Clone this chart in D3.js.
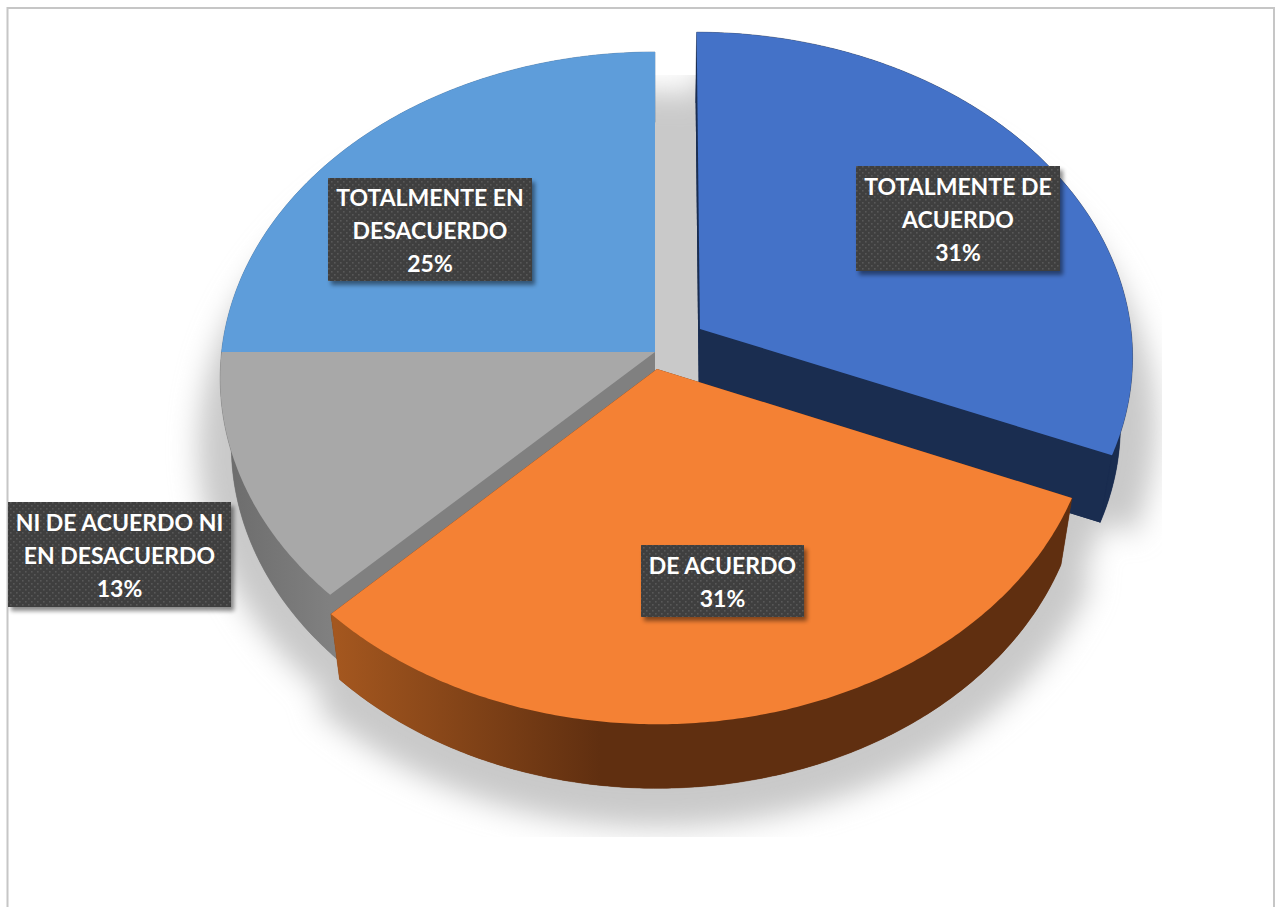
<!DOCTYPE html>
<html><head><meta charset="utf-8">
<style>html,body{margin:0;padding:0;background:#fff;overflow:hidden}svg{display:block}</style>
<script src="https://cdn.jsdelivr.net/npm/d3@7/dist/d3.min.js"></script>
</head><body><svg id="c" width="1278" height="907"></svg>
<script>
// --- data, clockwise from 12 o'clock
const categories = ["TOTALMENTE DE ACUERDO","DE ACUERDO","NI DE ACUERDO NI EN DESACUERDO","TOTALMENTE EN DESACUERDO"];
const values = [31.25,31.25,12.5,25];
const percentLabels = ["31%","31%","13%","25%"];
const labelLines = [["TOTALMENTE DE","ACUERDO"],["DE ACUERDO"],["NI DE ACUERDO NI","EN DESACUERDO"],["TOTALMENTE EN","DESACUERDO"]];

// --- styling and layout
const topColors = ["#4472C8","#F48134","#A8A8A8","#5E9DDA"];
const wallColors = ["#1A2D50","url(#orangeWall)","url(#grayWall)","#3A6A9A"];
const cutColors = ["#1A2D50","#602F10","#808080","#3A6A9A"];
const explodeX = [45.2,2,0,0], explodeY = [-23.2,16.9,0,0];
const labelBoxes = [[856,166,204,105],[641,545,163,72],[8,502,223,105],[328,178,204,103]];
const cx=655, cy=352, R=433.4, Ry=324, persp=0.08, depth=70, sink=0.026;

const svg=d3.select("#c");
const defs=svg.append("defs");
const grad=(id,x1,x2,stops)=>{const g=defs.append("linearGradient").attr("id",id).attr("gradientUnits","userSpaceOnUse")
  .attr("x1",x1).attr("x2",x2).attr("y1",0).attr("y2",0);
  stops.forEach(s=>g.append("stop").attr("offset",s[0]).attr("stop-color",s[1]));};
grad("orangeWall",335,600,[[0,"#A4571F"],[1,"#602F10"]]);
grad("grayWall",225,340,[[0,"#6C6C6C"],[1,"#828282"]]);
const blur=defs.append("filter").attr("id","blur").attr("x","-20%").attr("y","-20%").attr("width","140%").attr("height","140%");
blur.append("feGaussianBlur").attr("stdDeviation",13);
const ls=defs.append("filter").attr("id","ls").attr("x","-10%").attr("y","-10%").attr("width","120%").attr("height","125%");
ls.append("feGaussianBlur").attr("stdDeviation",2.2);
const pat=defs.append("pattern").attr("id","dots").attr("width",6).attr("height",6).attr("patternUnits","userSpaceOnUse");
pat.append("rect").attr("width",6).attr("height",6).attr("fill","#3F3F3F");
[[1,1],[4,4]].forEach(p=>pat.append("rect").attr("x",p[0]).attr("y",p[1]).attr("width",1.6).attr("height",1.6).attr("fill","#585858"));
defs.append("clipPath").attr("id","shClip").append("rect").attr("x",8).attr("y",75).attr("width",1154).attr("height",762);

// frame
svg.append("rect").attr("x",7.5).attr("y",8).attr("width",1266.5).attr("height",940).attr("fill","#fff").attr("stroke","#c6c6c6").attr("stroke-width",2);

const pie=d3.pie().sort(null).value(d=>d).startAngle(0).endAngle(2*Math.PI);
const arcs=pie(values);
const line=d3.line().x(d=>d[0]).y(d=>d[1]);

// ground plane -> screen
function project(u,v,lower){
  const w=1/((lower?1+sink:1)-persp*v/Ry);
  return [cx+u*w, cy+(v+(lower?depth:0))*w];
}
function ground(a,r,i){return [explodeX[i]+r*R*Math.sin(a), explodeY[i]-r*Ry*Math.cos(a)];}
function arcPts(d){const n=Math.ceil((d.endAngle-d.startAngle)/0.01);
  return d3.range(n+1).map(k=>d.startAngle+(d.endAngle-d.startAngle)*k/n);}
function facePts(d,i,lower){
  const pts=arcPts(d).map(a=>{const g=ground(a,1,i);return project(g[0],g[1],lower);});
  const c=ground(0,0,i);
  return [project(c[0],c[1],lower),...pts];
}
function quad(g1,g2){return [project(g1[0],g1[1],false),project(g2[0],g2[1],false),project(g2[0],g2[1],true),project(g1[0],g1[1],true)];}

// soft shadow: whole disc (index 2 has no explosion) plus the exploded slices
const sh=svg.append("g").attr("clip-path","url(#shClip)").append("g").attr("filter","url(#blur)")
  .attr("transform",`translate(${cx} ${cy+68}) scale(1.05 1.094) translate(${-cx} ${-cy})`);
sh.append("path").attr("fill","#C9C9C9").attr("d",line(facePts({startAngle:0,endAngle:2*Math.PI},2,false))+"Z");
sh.selectAll("path.s").data(arcs).join("path").attr("class","s").attr("fill","#C9C9C9")
  .attr("d",(d,i)=>line(facePts(d,i,false))+"Z");

// slices, far to near
const order=[3,0,2,1];
order.forEach(i=>{
  const d=arcs[i], g=svg.append("g");
  const c=ground(0,0,i);
  const outer=arcPts(d).map(a=>ground(a,1,i));
  g.append("path").attr("fill",cutColors[i]).attr("d",line(facePts(d,i,true))+"Z");
  [outer[0],outer[outer.length-1]].forEach(p=>{
    g.append("path").attr("fill",cutColors[i]).attr("d",line(quad(c,p))+"Z");
  });
  g.append("path").attr("fill",wallColors[i]).attr("stroke",wallColors[i]).attr("stroke-width",0.5)
    .attr("d",line([...outer.map(p=>project(p[0],p[1],false)),...outer.slice().reverse().map(p=>project(p[0],p[1],true))])+"Z");
  g.append("path").attr("fill",topColors[i]).attr("d",line(facePts(d,i,false))+"Z");
});

// labels
const lab=svg.append("g").selectAll("g").data(categories).join("g");
lab.append("rect").attr("x",(d,i)=>labelBoxes[i][0]+3).attr("y",(d,i)=>labelBoxes[i][1]+4)
  .attr("width",(d,i)=>labelBoxes[i][2]).attr("height",(d,i)=>labelBoxes[i][3])
  .attr("fill","#000").attr("opacity",0.45).attr("filter","url(#ls)");
lab.append("rect").attr("x",(d,i)=>labelBoxes[i][0]).attr("y",(d,i)=>labelBoxes[i][1])
  .attr("width",(d,i)=>labelBoxes[i][2]).attr("height",(d,i)=>labelBoxes[i][3]).attr("fill","url(#dots)");
lab.each(function(d,i){
  const b=labelBoxes[i], lines=[...labelLines[i],percentLabels[i]];
  const lh=32.8, y0=b[1]+b[3]/2-(lines.length-1)*lh/2+1.5;
  d3.select(this).selectAll("text").data(lines).join("text")
    .attr("x",b[0]+b[2]/2).attr("y",(t,k)=>y0+k*lh).attr("dy","0.36em")
    .attr("text-anchor","middle").attr("fill","#fff")
    .attr("font-family","Lato, 'Open Sans', sans-serif").attr("font-weight",700).attr("font-size",23)
    .text(t=>t);
});
</script></body></html>
